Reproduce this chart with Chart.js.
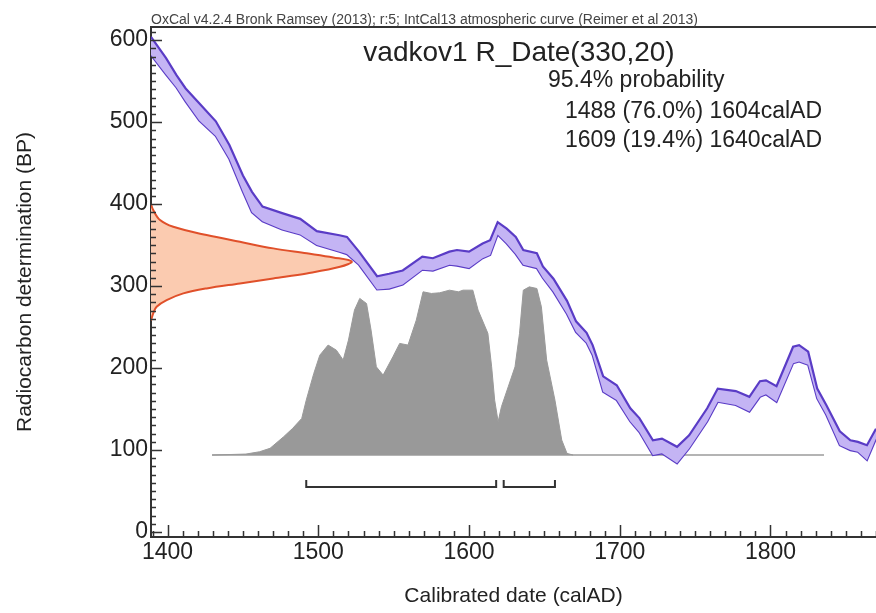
<!DOCTYPE html>
<html>
<head>
<meta charset="utf-8">
<title>vadkov1 R_Date(330,20)</title>
<script src="https://cdn.jsdelivr.net/npm/chart.js@4.4.1/dist/chart.umd.min.js"></script>
<style>
  html, body { margin: 0; padding: 0; background: #fff; }
  canvas { display: block; }
</style>
</head>
<body>
<canvas id="chart" width="876" height="613"></canvas>
<script>
// IntCal13 calibration band, upper and lower edge in BP
const curveYears = [1389, 1399, 1406, 1412, 1421, 1432, 1441, 1450, 1456, 1463, 1476, 1488, 1499, 1514, 1519,
  1527, 1539, 1547, 1556, 1569, 1576, 1587, 1592, 1600, 1609, 1614, 1619, 1625, 1631, 1636, 1645, 1649, 1656,
  1665, 1671, 1678, 1682, 1689, 1698, 1707, 1713, 1722, 1728, 1738, 1746, 1758, 1765, 1777, 1786, 1793, 1797,
  1804, 1815, 1819, 1825, 1831, 1837, 1846, 1853, 1858, 1864, 1870];
const curveHi = [604, 578, 557, 541, 523, 501, 472, 435, 415, 397, 389, 382, 367, 362, 360,
  342, 312, 315, 319, 336, 334, 342, 344, 342, 352, 356, 378, 370, 360, 344, 340, 324, 309,
  282, 257, 243, 228, 190, 179, 151, 139, 112, 114, 104, 118, 151, 175, 172, 165, 184, 185,
  178, 226, 228, 220, 175, 155, 123, 112, 110, 106, 126];
const curveLo = [582, 558, 542, 525, 502, 483, 455, 415, 390, 379, 369, 363, 350, 342, 339,
  326, 296, 297, 302, 320, 319, 326, 325, 322, 334, 338, 363, 352, 339, 326, 322, 310, 293,
  266, 244, 231, 216, 171, 161, 135, 122, 94, 96, 84, 102, 135, 159, 155, 147, 165, 168,
  159, 206, 208, 204, 163, 143, 106, 100, 98, 88, 114];

// R_Date(330,20) likelihood on the BP axis (relative density)
const likelihoodBP = [400, 392.7, 380.5, 372.3, 362.2, 354, 346, 340, 335, 330, 323.5, 315.5, 309.4,
  303.3, 297.2, 291.1, 282.9, 274.8, 266.7, 258];
const likelihoodDensity = [0, 0.011, 0.045, 0.111, 0.277, 0.443, 0.609, 0.776, 0.908, 1.0, 0.942, 0.776, 0.609,
  0.443, 0.277, 0.161, 0.078, 0.028, 0.011, 0];

// calibrated date distribution (relative probability)
const calYears = [1429.5, 1452, 1461, 1468, 1477, 1483, 1489, 1492, 1497, 1501, 1506.5, 1512, 1516.5, 1520,
  1524, 1527.5, 1532, 1535, 1538.5, 1543, 1549.5, 1554, 1559.5, 1565, 1569.5, 1575, 1580.5, 1587, 1593, 1596,
  1602.5, 1606, 1612.5, 1615, 1617, 1619.3, 1621.5, 1626, 1630.5, 1633.5, 1636, 1640, 1645, 1648, 1651.5,
  1657, 1661.5, 1665, 1669];
const calProb = [0, 0.006, 0.02, 0.041, 0.111, 0.162, 0.222, 0.333, 0.495, 0.606, 0.667, 0.636, 0.576, 0.697,
  0.879, 0.95, 0.919, 0.758, 0.535, 0.485, 0.596, 0.677, 0.667, 0.818, 0.99, 0.98, 0.984, 1.0, 0.99, 1.0,
  1.0, 0.879, 0.738, 0.535, 0.333, 0.202, 0.293, 0.414, 0.535, 0.738, 1.0, 1.02, 1.01, 0.899, 0.576,
  0.333, 0.091, 0.01, 0];
const baselineYears = [1429.5, 1835.5];

// 95.4% range bars as they sit under the distribution
const rangeFrom = [1492, 1623];
const rangeTo = [1618, 1657];

const headerText = 'OxCal v4.2.4 Bronk Ramsey (2013); r:5; IntCal13 atmospheric curve (Reimer et al 2013)';
const titleText = 'vadkov1 R_Date(330,20)';
const summaryLines = ['95.4% probability', '1488 (76.0%) 1604calAD', '1609 (19.4%) 1640calAD'];

const FONT = '"Liberation Sans", Arial, sans-serif';
const INK = '#222';
const zip = (xs, ys) => xs.map((x, i) => ({x: x, y: ys[i]}));

const bracketData = [];
rangeFrom.forEach((from, i) => {
  if (i > 0) bracketData.push({x: (rangeTo[i - 1] + from) / 2, y: null});
  bracketData.push({x: from, y: -0.152}, {x: from, y: -0.194}, {x: rangeTo[i], y: -0.194}, {x: rangeTo[i], y: -0.152});
});

// inward minor/major ticks and the top frame line, OxCal style
const frameTicks = {
  id: 'frameTicks',
  afterDraw(chart) {
    const {ctx, chartArea: a, scales: {x, y}} = chart;
    ctx.save();
    ctx.strokeStyle = '#333';
    ctx.lineWidth = 1.5;
    ctx.beginPath();
    for (let v = 0; v <= 610; v += 10) {
      const py = Math.round(y.getPixelForValue(v)) + 0.5;
      ctx.moveTo(a.left, py);
      ctx.lineTo(a.left + (v % 100 === 0 ? 11 : 5), py);
    }
    for (let v = 1390; v <= 1870; v += 10) {
      const px = Math.round(x.getPixelForValue(v)) + 0.5;
      ctx.moveTo(px, a.bottom);
      ctx.lineTo(px, a.bottom - (v % 100 === 0 ? 12 : 6));
    }
    ctx.stroke();
    ctx.lineWidth = 2;
    ctx.beginPath();
    ctx.moveTo(a.left - 1, a.top);
    ctx.lineTo(a.right, a.top);
    ctx.stroke();
    ctx.restore();
  }
};

const annotations = {
  id: 'annotations',
  afterDraw(chart) {
    const {ctx, chartArea: a} = chart;
    ctx.save();
    ctx.fillStyle = '#444';
    ctx.textBaseline = 'alphabetic';
    ctx.font = '14px ' + FONT;
    ctx.fillText(headerText, a.left, 24);
    ctx.fillStyle = INK;
    ctx.font = '28px ' + FONT;
    ctx.textAlign = 'center';
    ctx.fillText(titleText, 519, 61);
    ctx.textAlign = 'left';
    ctx.font = '23px ' + FONT;
    ctx.fillText(summaryLines[0], 548, 87);
    ctx.fillText(summaryLines[1], 565, 118);
    ctx.fillText(summaryLines[2], 565, 147);
    ctx.restore();
  }
};

Chart.defaults.font.family = FONT;

new Chart(document.getElementById('chart'), {
  type: 'line',
  data: {
    datasets: [
      {
        label: 'IntCal13 upper',
        data: zip(curveYears, curveHi),
        borderColor: '#5a3cc6',
        borderWidth: 2.2,
        backgroundColor: '#c4b4f4',
        fill: '+1',
        tension: 0,
        pointRadius: 0,
        order: 2
      },
      {
        label: 'IntCal13 lower',
        data: zip(curveYears, curveLo),
        borderColor: '#5a3cc6',
        borderWidth: 2.2,
        fill: false,
        tension: 0,
        pointRadius: 0,
        order: 2
      },
      {
        label: 'R_Date(330,20)',
        data: zip(likelihoodDensity, likelihoodBP),
        indexAxis: 'y',
        xAxisID: 'xp',
        yAxisID: 'y',
        borderColor: '#e0502a',
        borderWidth: 2,
        backgroundColor: '#fbcbb0',
        fill: 'origin',
        tension: 0.35,
        pointRadius: 0,
        order: 0
      },
      {
        label: 'Calibrated',
        data: zip(calYears, calProb),
        xAxisID: 'x',
        yAxisID: 'yp',
        borderColor: '#999999',
        borderWidth: 1,
        backgroundColor: '#999999',
        fill: 'origin',
        tension: 0,
        pointRadius: 0,
        order: 3
      },
      {
        label: 'Baseline',
        data: baselineYears.map(v => ({x: v, y: 0})),
        xAxisID: 'x',
        yAxisID: 'yp',
        borderColor: '#b4b4b4',
        borderWidth: 2,
        fill: false,
        pointRadius: 0,
        order: 4
      },
      {
        label: '95.4% ranges',
        data: bracketData,
        xAxisID: 'x',
        yAxisID: 'yp',
        borderColor: '#333',
        borderWidth: 2,
        fill: false,
        tension: 0,
        spanGaps: false,
        pointRadius: 0,
        order: 3
      }
    ]
  },
  options: {
    responsive: false,
    animation: false,
    devicePixelRatio: 1,
    layout: { padding: { top: 27, right: 0, bottom: 0, left: 0 } },
    plugins: { legend: { display: false }, tooltip: { enabled: false } },
    scales: {
      x: {
        type: 'linear',
        position: 'bottom',
        min: 1389,
        max: 1870,
        ticks: { stepSize: 100, includeBounds: false, padding: 2, color: INK, font: { size: 23 }, maxRotation: 0, autoSkip: false, callback: v => String(v) },
        grid: { display: false, drawTicks: false },
        border: { color: '#333', width: 2 },
        title: { display: true, text: 'Calibrated date (calAD)', color: INK, font: { size: 21 }, padding: { top: 0, bottom: 4 } },
        afterFit: s => { s.height = 76; s.paddingLeft = 0; s.paddingRight = 0; }
      },
      y: {
        type: 'linear',
        position: 'left',
        min: -6,
        max: 616,
        ticks: { stepSize: 100, includeBounds: false, padding: 3, color: INK, font: { size: 23 }, callback: v => String(v) },
        grid: { display: false, drawTicks: false },
        border: { color: '#333', width: 2 },
        title: { display: true, text: 'Radiocarbon determination (BP)', color: INK, font: { size: 21 }, padding: { top: 13, bottom: 0 } },
        afterFit: s => { s.width = 151; s.paddingTop = 0; s.paddingBottom = 0; }
      },
      xp: { type: 'linear', axis: 'x', position: 'bottom', display: false, min: 0, max: 3.612 },
      yp: { type: 'linear', axis: 'y', position: 'left', display: false, min: -0.497, max: 2.596 }
    }
  },
  plugins: [frameTicks, annotations]
});
</script>
</body>
</html>
